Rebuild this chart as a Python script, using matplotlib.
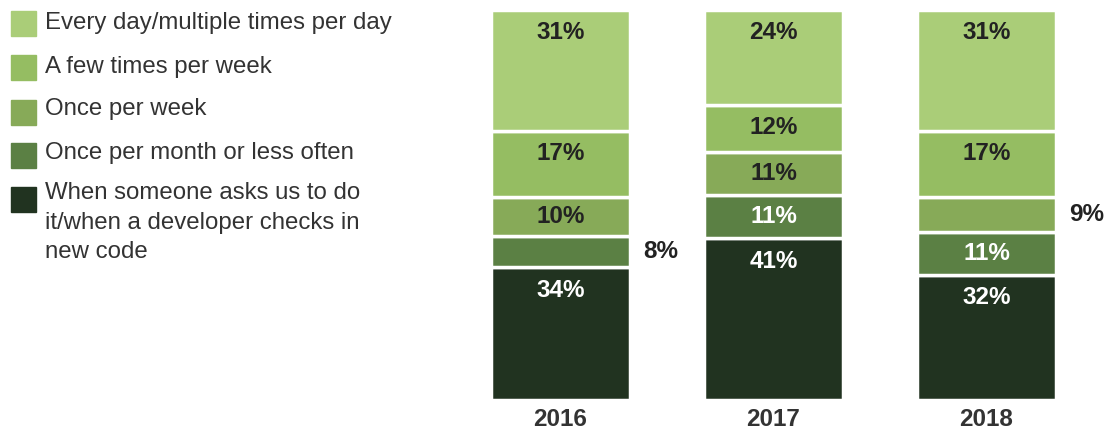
import matplotlib.pyplot as plt
from matplotlib.patches import Rectangle
import numpy as np

plt.rcParams['font.family'] = ['Liberation Sans', 'DejaVu Sans']

years = ['2016', '2017', '2018']
categories = ['When someone asks us to do\nit/when a developer checks in\nnew code',
              'Once per month or less often',
              'Once per week',
              'A few times per week',
              'Every day/multiple times per day']
# bottom to top
when_asked = [34, 41, 32]
monthly = [8, 11, 11]
weekly = [10, 11, 9]
few_weekly = [17, 12, 17]
daily = [31, 24, 31]
series = [when_asked, monthly, weekly, few_weekly, daily]
colors = ['#213320', '#5b8044', '#87aa58', '#95bd62', '#aacd78']
text_colors = ['white', 'white', '#222222', '#222222', '#222222']
# labels drawn beside the bar instead of inside
outside = {(1, 0), (2, 2)}

W, H = 1112, 430
fig = plt.figure(figsize=(W / 100, H / 100), dpi=100)
left, right = 420, 1112
ax = fig.add_axes([left / W, 1 - 400 / H, (right - left) / W, 390 / H])

x = np.arange(len(years))
data = np.array(series, dtype=float)
data = data / data.sum(axis=0) * 100
bottom = np.zeros(len(years))
for i, vals in enumerate(data):
    ax.bar(x, vals, 0.653, bottom=bottom, color=colors[i],
           edgecolor='white', linewidth=2.5)
    for j, v in enumerate(vals):
        top = bottom[j] + v
        lbl = f'{series[i][j]}%'
        if (i, j) in outside:
            ax.text(x[j] + 0.39, bottom[j] + v / 2, lbl, ha='left', va='center',
                    fontsize=17.5, fontweight='bold', color='#222222')
        else:
            ax.text(x[j], top - min(v / 2, 5.8), lbl, ha='center', va='center',
                    fontsize=17.5, fontweight='bold', color=text_colors[i])
    bottom += vals

ax.set_xlim((left - 560.5) / 213, (right - 560.5) / 213)
ax.set_ylim(0, 100)
ax.set_xticks(x)
ax.set_xticklabels(years, fontsize=17.5, fontweight='bold', color='#333333')
ax.tick_params(axis='x', length=0, pad=6)
ax.set_yticks([])
for s in ax.spines.values():
    s.set_visible(False)

# legend drawn by hand, top to bottom
sq_tops = [11, 55, 100, 143, 187]
text_y = [23, 67, 109, 153, 182]
for k in range(5):
    ci = 4 - k
    fig.patches.append(Rectangle((11 / W, 1 - (sq_tops[k] + 25) / H), 25 / W, 25 / H,
                                 transform=fig.transFigure, color=colors[ci]))
    fig.text(45 / W, 1 - text_y[k] / H, categories[ci], ha='left', va='center' if ci else 'top',
             fontsize=17.3, color='#333333', linespacing=1.45)

fig.savefig('out.png', dpi=100)
